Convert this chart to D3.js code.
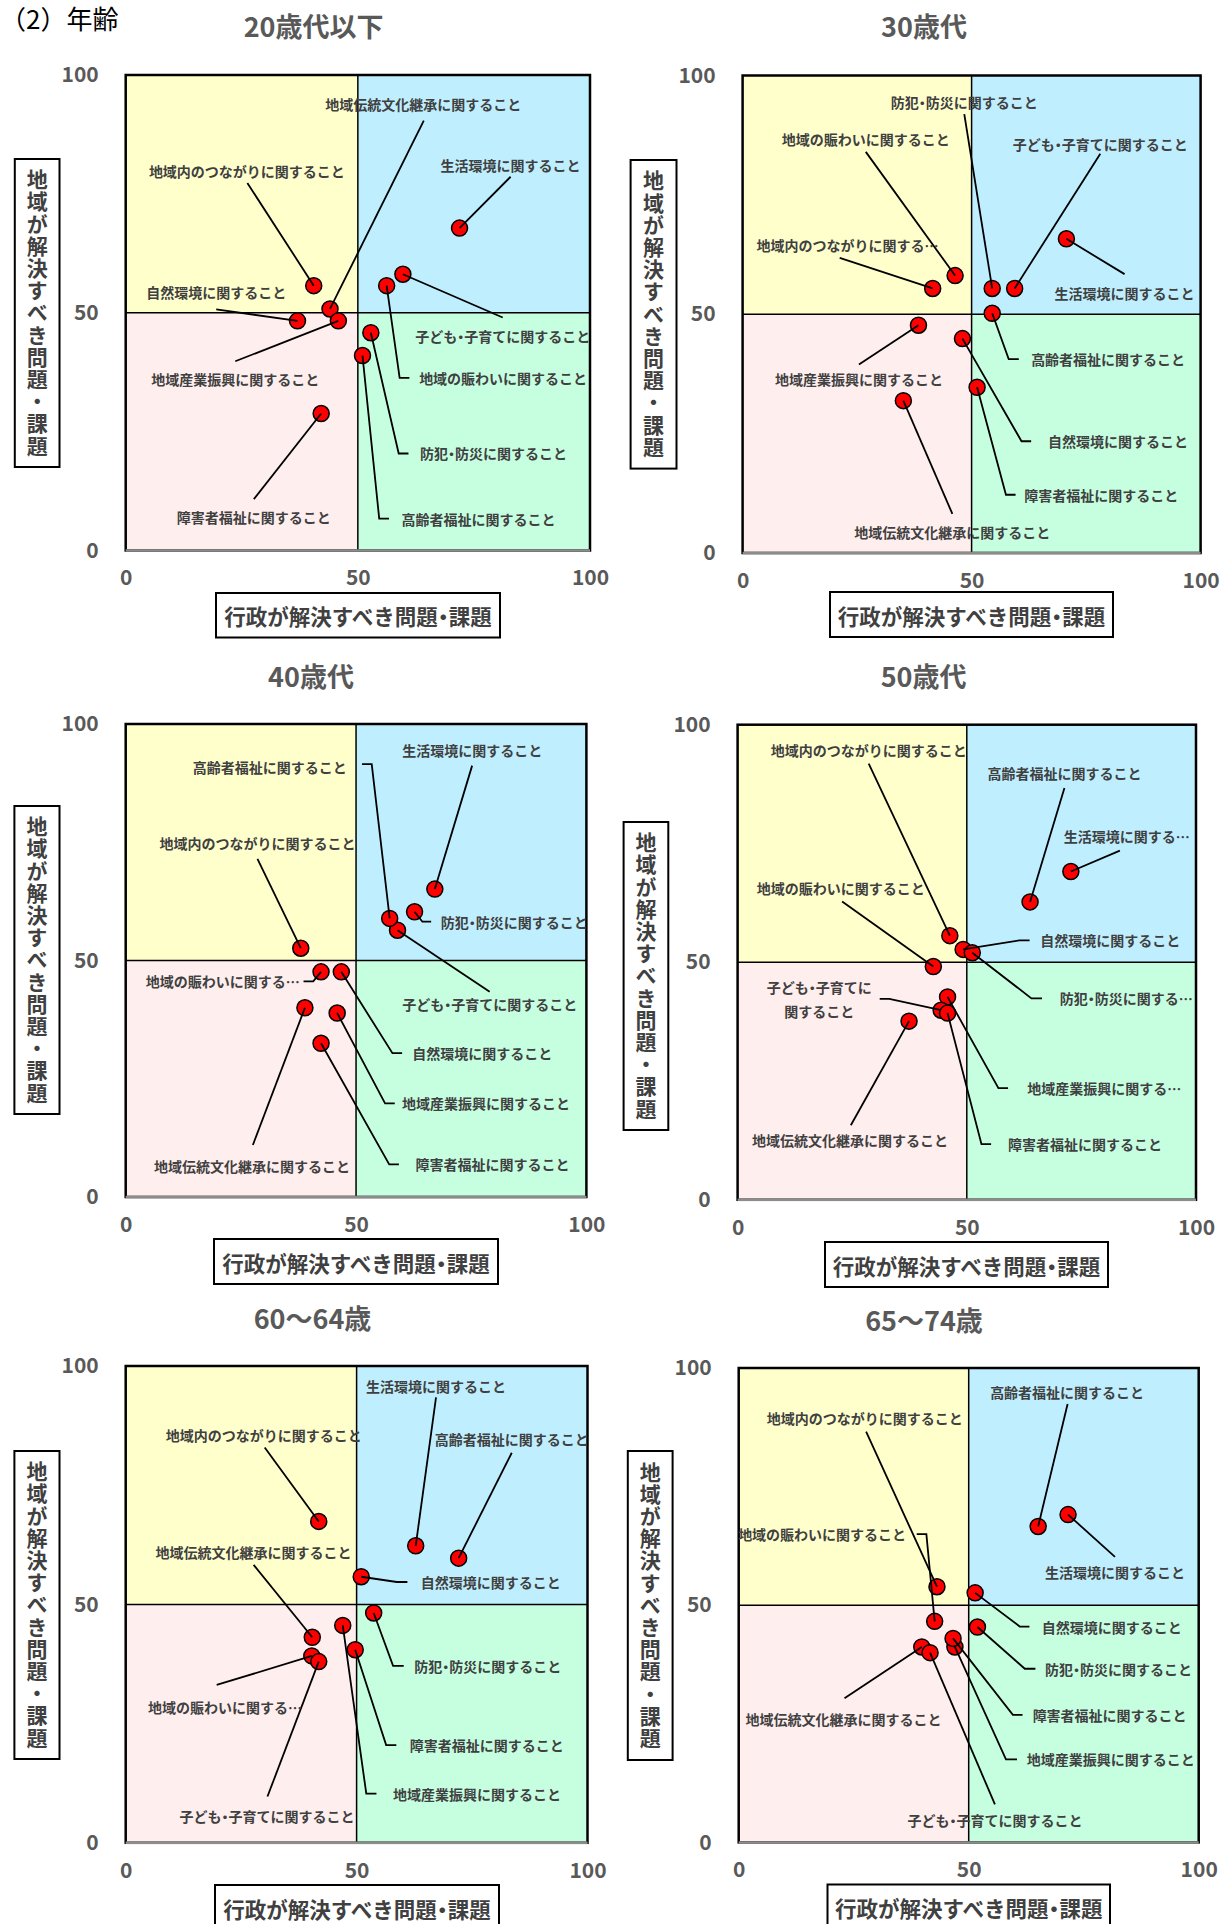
<!DOCTYPE html>
<html><head><meta charset="utf-8">
<script src="https://cdn.jsdelivr.net/npm/d3@7"></script>
<style>
html,body{margin:0;padding:0;background:#fff;}
svg{display:block;font-family:"Noto Sans CJK JP","Noto Sans",sans-serif;}
.hw{font-feature-settings:"halt" 1;}
</style></head>
<body>
<svg id="chart" width="1227" height="1924"></svg>
<script>
// ---------- DATA ----------
const pageTitle = "（2）年齢";
const ageGroups = ["20歳代以下", "30歳代", "40歳代", "50歳代", "60～64歳", "65～74歳"];
const categories = [
  "地域内のつながりに関すること",
  "地域の賑わいに関すること",
  "地域伝統文化継承に関すること",
  "地域産業振興に関すること",
  "自然環境に関すること",
  "生活環境に関すること",
  "防犯・防災に関すること",
  "子ども・子育てに関すること",
  "高齢者福祉に関すること",
  "障害者福祉に関すること"
];
const axisTicks = [0, 50, 100];
const xAxisTitle = "行政が解決すべき問題・課題";
const yAxisTitle = "地域が解決すべき問題・課題";

// 行政が解決すべき (x) / 地域が解決すべき (y), category order
const gyosei_20s = [40.5, 56.2, 44.0, 45.8, 37.0, 71.9, 52.8, 59.7, 51.0, 42.1];
const chiiki_20s = [55.7, 55.7, 50.8, 48.3, 48.3, 67.8, 45.8, 58.1, 41.0, 28.8];
const gyosei_30s = [41.5, 46.4, 35.1, 38.4, 48.0, 70.7, 54.5, 59.4, 54.5, 51.2];
const chiiki_30s = [55.4, 58.1, 31.9, 47.7, 44.9, 65.8, 55.4, 55.4, 50.2, 34.7];
const gyosei_40s = [38.0, 42.4, 38.9, 45.9, 46.8, 67.1, 62.7, 59.0, 57.3, 42.4];
const chiiki_40s = [52.6, 47.6, 40.0, 38.9, 47.6, 65.1, 60.3, 56.4, 58.9, 32.5];
const gyosei_50s = [46.3, 42.7, 37.4, 45.8, 49.2, 72.7, 51.2, 44.4, 63.8, 45.8];
const chiiki_50s = [55.6, 49.1, 37.6, 42.7, 52.7, 69.1, 52.0, 39.9, 62.7, 39.3];
const gyosei_6064 = [41.8, 40.3, 40.4, 47.0, 51.0, 62.8, 53.7, 41.8, 72.1, 49.7];
const chiiki_6064 = [67.4, 39.2, 43.1, 45.6, 55.8, 62.3, 48.2, 38.0, 59.7, 40.5];
const gyosei_6574 = [43.1, 42.6, 39.8, 47.0, 51.4, 71.6, 51.9, 41.6, 65.1, 46.6];
const chiiki_6574 = [53.9, 46.6, 41.2, 41.2, 52.6, 69.1, 45.4, 40.0, 66.6, 43.0];

// ---------- LABEL LAYOUT (data units) ----------
// t: text anchor point, a: text-anchor, l: leader points after the marker, txt: displayed text override
const layout_20s = [
  {t:[26.1,79.9],a:"middle",l:[[26.2,77.3]]},
  {t:[63.2,36.3],a:"start",l:[[59.0,36.3],[61.1,36.3]]},
  {t:[64.1,93.9],a:"middle",l:[[64.2,90.4]]},
  {t:[23.6,36.1],a:"middle",l:[[23.6,39.8]]},
  {t:[19.5,54.4],a:"middle",l:[[19.5,50.7]]},
  {t:[82.9,81.0],a:"middle",l:[[82.9,78.6]]},
  {t:[63.4,20.4],a:"start",l:[[58.8,20.4],[60.9,20.4]]},
  {t:[81.2,45.2],a:"middle",l:[[81.2,49.0]]},
  {t:[59.4,6.7],a:"start",l:[[54.6,6.7],[56.7,6.7]]},
  {t:[27.6,7.1],a:"middle",l:[[27.6,10.8]]}
];
const layout_30s = [
  {t:[22.9,64.5],a:"middle",l:[[21.2,61.8]],txt:"地域内のつながりに関する…"},
  {t:[26.9,86.6],a:"middle",l:[[26.9,84.0]]},
  {t:[45.8,4.5],a:"middle",l:[[45.8,8.2]]},
  {t:[25.4,36.4],a:"middle",l:[[25.4,39.5]]},
  {t:[66.7,23.4],a:"start",l:[[60.9,23.4],[63.0,23.4]]},
  {t:[83.4,54.5],a:"middle",l:[[83.4,58.4]]},
  {t:[48.4,94.4],a:"middle",l:[[48.4,91.9]]},
  {t:[78.1,85.7],a:"middle",l:[[78.1,83.6]]},
  {t:[63.0,40.6],a:"start",l:[[58.1,40.6],[60.3,40.6]]},
  {t:[61.5,12.2],a:"start",l:[[57.5,12.2],[59.6,12.2]]}
];
const layout_40s = [
  {t:[28.6,74.8],a:"middle",l:[[28.6,71.5]]},
  {t:[37.8,45.6],a:"end",l:[[40.7,45.6],[38.6,45.6]],txt:"地域の賑わいに関する…"},
  {t:[27.4,6.6],a:"middle",l:[[27.6,11.0]]},
  {t:[60.0,19.8],a:"start",l:[[56.3,19.8],[58.4,19.8]]},
  {t:[62.2,30.4],a:"start",l:[[57.9,30.4],[60.0,30.4]]},
  {t:[75.2,94.6],a:"middle",l:[[75.2,91.2]]},
  {t:[68.4,58.2],a:"start",l:[[64.4,58.2],[66.3,58.2]]},
  {t:[79.0,40.8],a:"middle",l:[[79.0,43.4]]},
  {t:[48.0,91.0],a:"end",l:[[53.4,91.5],[51.3,91.5]]},
  {t:[62.9,6.9],a:"start",l:[[57.2,6.9],[59.3,6.9]]}
];
const layout_50s = [
  {t:[28.6,94.6],a:"middle",l:[[28.6,91.8]]},
  {t:[22.5,65.7],a:"middle",l:[[22.8,62.8]]},
  {t:[24.5,12.5],a:"middle",l:[[24.7,15.7]]},
  {t:[63.2,23.5],a:"start",l:[[56.9,23.5],[59.0,23.5]],txt:"地域産業振興に関する…"},
  {t:[66.0,54.6],a:"start",l:[[61.5,54.6],[63.7,54.6]]},
  {t:[84.9,76.6],a:"middle",l:[[83.4,73.5]],txt:"生活環境に関する…"},
  {t:[70.3,42.4],a:"start",l:[[64.1,42.4],[66.4,42.4]],txt:"防犯・防災に関する…"},
  {t:[17.8,44.8],a:"middle",l:[[33.1,42.3],[31.0,42.3]],txt:"子ども・子育てに|関すること"},
  {t:[71.3,89.9],a:"middle",l:[[71.3,86.7]]},
  {t:[59.0,11.7],a:"start",l:[[53.2,11.7],[55.3,11.7]]}
];
const layout_6064 = [
  {t:[29.9,85.6],a:"middle",l:[[30.1,82.9]]},
  {t:[21.5,28.5],a:"middle",l:[[19.7,33.1]],txt:"地域の賑わいに関する…"},
  {t:[27.7,61.0],a:"middle",l:[[27.7,58.3]]},
  {t:[57.9,10.3],a:"start",l:[[52.1,10.3],[54.3,10.3]]},
  {t:[63.9,54.7],a:"start",l:[[58.7,54.7],[61.0,54.7]]},
  {t:[67.2,95.9],a:"middle",l:[[67.2,93.4]]},
  {t:[62.5,37.1],a:"start",l:[[57.9,37.1],[60.2,37.1]]},
  {t:[30.6,5.7],a:"middle",l:[[30.7,9.7]]},
  {t:[83.6,84.6],a:"middle",l:[[83.6,81.8]]},
  {t:[61.5,20.5],a:"start",l:[[56.4,20.5],[58.6,20.5]]}
];
const layout_6574 = [
  {t:[27.4,89.4],a:"middle",l:[[27.7,86.6]]},
  {t:[36.4,65.0],a:"end",l:[[40.8,65.0],[38.7,65.0]]},
  {t:[22.8,26.0],a:"middle",l:[[23.0,30.4]]},
  {t:[62.6,17.5],a:"start",l:[[58.1,17.5],[60.5,17.5]]},
  {t:[65.9,45.5],a:"start",l:[[61.1,45.5],[63.2,45.5]]},
  {t:[81.8,57.0],a:"middle",l:[[81.8,60.2]]},
  {t:[66.6,36.6],a:"start",l:[[62.2,36.6],[64.5,36.6]]},
  {t:[55.7,4.8],a:"middle",l:[[55.7,8.0]]},
  {t:[71.4,95.0],a:"middle",l:[[71.5,92.4]]},
  {t:[63.9,26.9],a:"start",l:[[59.6,26.9],[61.7,26.9]]}
];

// ---------- PANEL GEOMETRY (pixels) ----------
const panelGeom = [
  {L:125.7,R:590,T:75,B:550.5, tx:313.6,ty:25, yb:[14.8,59.5,159,467], xb:[216,500,593,637.5]},
  {L:742.6,R:1200.6,T:75.5,B:553, tx:924,ty:25, yb:[630.6,676.5,160,468.6], xb:[830,1113,592,637]},
  {L:125.7,R:586.4,T:724,B:1197, tx:311,ty:675, yb:[14.4,59.5,806,1114], xb:[214,498,1239,1284]},
  {L:737.6,R:1196,T:724.7,B:1199.8, tx:923.6,ty:675, yb:[623.6,668.3,822,1130], xb:[825,1108,1242,1287]},
  {L:125.7,R:587.5,T:1366,B:1842.8, tx:312.5,ty:1317.5, yb:[14.4,59.5,1451,1759], xb:[215,499,1885,1930]},
  {L:738.7,R:1198.7,T:1368,B:1842.4, tx:924,ty:1319, yb:[627.8,672.6,1451,1760], xb:[827.5,1110,1884.5,1930]}
];

const panels = [
  {name: ageGroups[0], gx: gyosei_20s, cy: chiiki_20s, lay: layout_20s},
  {name: ageGroups[1], gx: gyosei_30s, cy: chiiki_30s, lay: layout_30s},
  {name: ageGroups[2], gx: gyosei_40s, cy: chiiki_40s, lay: layout_40s},
  {name: ageGroups[3], gx: gyosei_50s, cy: chiiki_50s, lay: layout_50s},
  {name: ageGroups[4], gx: gyosei_6064, cy: chiiki_6064, lay: layout_6064},
  {name: ageGroups[5], gx: gyosei_6574, cy: chiiki_6574, lay: layout_6574}
];

const quadColors = {tl:"#FFFFCC", tr:"#BFEFFF", bl:"#FFEEEE", br:"#C6FFE0"};

// write a string into a <text>, drawing "・" at half width (as in the original font)
function fillText(t, s, x0, y0) {
  t.attr("x", x0).attr("y", y0);
  const parts = s.split("・");
  parts.forEach((part, k) => {
    if (k > 0) t.append("tspan").attr("class", "hw").text("・");
    t.append("tspan").text(part);
  });
}

// ---------- DRAW ----------
const svg = d3.select("#chart");

svg.append("text").attr("x", 0).attr("y", 29)
  .attr("font-size", 26).attr("fill", "#000").text(pageTitle);

panels.forEach((p, pi) => {
  const G = panelGeom[pi];
  const x = d3.scaleLinear().domain([0,100]).range([G.L, G.R]);
  const y = d3.scaleLinear().domain([0,100]).range([G.B, G.T]);
  const g = svg.append("g");

  // quadrants
  const quads = [
    {x0:0,x1:50,y0:50,y1:100,c:quadColors.tl},
    {x0:50,x1:100,y0:50,y1:100,c:quadColors.tr},
    {x0:0,x1:50,y0:0,y1:50,c:quadColors.bl},
    {x0:50,x1:100,y0:0,y1:50,c:quadColors.br}
  ];
  g.selectAll("rect.q").data(quads).join("rect").attr("class","q")
    .attr("x", d => x(d.x0)).attr("y", d => y(d.y1))
    .attr("width", d => x(d.x1) - x(d.x0)).attr("height", d => y(d.y0) - y(d.y1))
    .attr("fill", d => d.c);

  // mid lines
  g.append("line").attr("x1", x(50)).attr("x2", x(50)).attr("y1", y(0)).attr("y2", y(100))
    .attr("stroke", "#000").attr("stroke-width", 1.5);
  g.append("line").attr("x1", x(0)).attr("x2", x(100)).attr("y1", y(50)).attr("y2", y(50))
    .attr("stroke", "#000").attr("stroke-width", 1.5);

  // border
  g.append("rect").attr("x", x(0)).attr("y", y(100))
    .attr("width", x(100) - x(0)).attr("height", y(0) - y(100))
    .attr("fill", "none").attr("stroke", "#000").attr("stroke-width", 2.5);
  g.append("line").attr("x1", x(0)).attr("x2", x(100)).attr("y1", y(0)).attr("y2", y(0))
    .attr("stroke", "#8c8c8c").attr("stroke-width", 2.5);

  // axes
  const ya = g.append("g").attr("transform", `translate(${x(0)},0)`)
    .call(d3.axisLeft(y).tickValues(axisTicks).tickSize(0).tickPadding(27));
  ya.select(".domain").remove();
  const xa = g.append("g").attr("transform", `translate(0,${y(0)})`)
    .call(d3.axisBottom(x).tickValues(axisTicks).tickSize(0).tickPadding(20));
  xa.select(".domain").remove();
  g.selectAll(".tick text").attr("font-size", 21).attr("font-weight", "bold")
    .attr("fill", "#595959").attr("font-family", "'Noto Sans CJK JP', sans-serif");

  // title
  g.append("text").attr("x", G.tx).attr("y", G.ty).attr("text-anchor", "middle")
    .attr("dominant-baseline", "central").attr("font-size", 27).attr("font-weight", "bold")
    .attr("fill", "#595959").text(p.name);

  // x axis title box
  const xb = G.xb;
  g.append("rect").attr("x", xb[0]).attr("y", xb[2]).attr("width", xb[1]-xb[0]).attr("height", xb[3]-xb[2])
    .attr("fill", "#fff").attr("stroke", "#000").attr("stroke-width", 2);
  const xt = g.append("text").attr("text-anchor", "middle").attr("dominant-baseline", "central")
    .attr("font-size", 21.5).attr("font-weight", "bold").attr("fill", "#404040");
  fillText(xt, xAxisTitle, (xb[0]+xb[1])/2, (xb[2]+xb[3])/2);

  // y axis title box (vertical writing)
  const yb = G.yb;
  g.append("rect").attr("x", yb[0]).attr("y", yb[2]).attr("width", yb[1]-yb[0]).attr("height", yb[3]-yb[2])
    .attr("fill", "#fff").attr("stroke", "#000").attr("stroke-width", 2);
  g.append("text").attr("x", (yb[0]+yb[1])/2).attr("y", (yb[2]+yb[3])/2)
    .attr("text-anchor", "middle").style("writing-mode", "vertical-rl")
    .style("letter-spacing", "1.2px")
    .attr("font-size", 21).attr("font-weight", "bold").attr("fill", "#404040").text(yAxisTitle);

  const pts = categories.map((c, i) => ({c, gx: p.gx[i], cy: p.cy[i], lay: p.lay[i]}));

  // points
  g.selectAll("circle.pt").data(pts).join("circle").attr("class","pt")
    .attr("cx", d => x(d.gx)).attr("cy", d => y(d.cy)).attr("r", 8)
    .attr("fill", "#FF0000").attr("stroke", "#000").attr("stroke-width", 1.5);

  // leader lines
  const line = d3.line().x(d => x(d[0])).y(d => y(d[1]));
  g.selectAll("path.ld").data(pts).join("path").attr("class","ld")
    .attr("d", d => line([[d.gx, d.cy], ...d.lay.l]))
    .attr("fill", "none").attr("stroke", "#000").attr("stroke-width", 1.8);

  // labels
  pts.forEach(d => {
    const lines = (d.lay.txt || d.c).split("|");
    lines.forEach((s, k) => {
      const t = g.append("text").attr("text-anchor", d.lay.a)
        .attr("font-size", 14).attr("font-weight", "bold").attr("fill", "#404040")
        .attr("dominant-baseline", "central");
      fillText(t, s, x(d.lay.t[0]), y(d.lay.t[1]) + k*24);
    });
  });
});
</script>
</body></html>
